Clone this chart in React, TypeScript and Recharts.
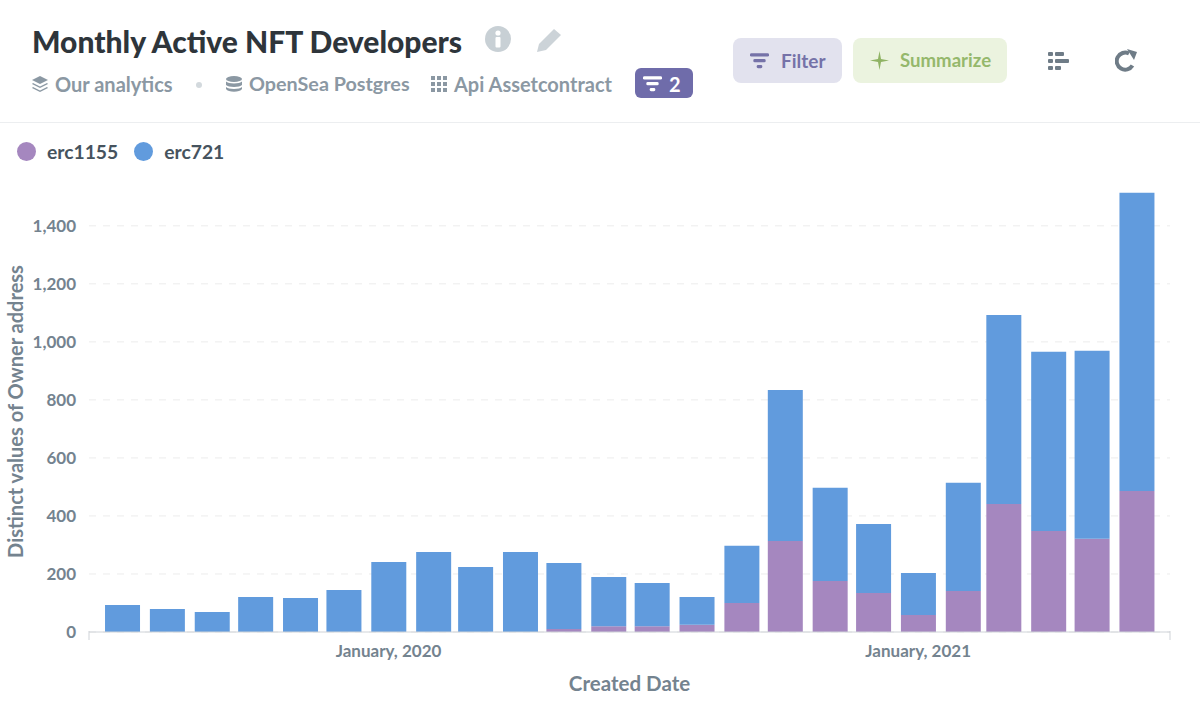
import React from 'react';
import { BarChart, Bar, XAxis, YAxis, CartesianGrid, Legend, Label } from 'recharts';

const months = [
  '2019-07-01', '2019-08-01', '2019-09-01', '2019-10-01', '2019-11-01', '2019-12-01',
  '2020-01-01', '2020-02-01', '2020-03-01', '2020-04-01', '2020-05-01', '2020-06-01',
  '2020-07-01', '2020-08-01', '2020-09-01', '2020-10-01', '2020-11-01', '2020-12-01',
  '2021-01-01', '2021-02-01', '2021-03-01', '2021-04-01', '2021-05-01', '2021-06-01',
];
const erc1155 = [0, 0, 0, 0, 0, 0, 0, 0, 0, 0, 10, 20, 20, 25, 100, 314, 176, 134, 59, 141, 441, 348, 321, 486];
const erc721 = [93, 79, 69, 121, 117, 145, 241, 276, 224, 276, 228, 170, 149, 96, 197, 520, 321, 238, 144, 373, 652, 618, 648, 1028];

const yTicks = [0, 200, 400, 600, 800, 1000, 1200, 1400];
const xLabels: Record<string, string> = {
  '2020-01-01': 'January, 2020',
  '2021-01-01': 'January, 2021',
};
const domainStart = '2019-06-08';
const domainEnd = '2021-06-24';

const toTime = (d: string) => Date.parse(d + 'T00:00:00Z');
const data = months.map((m, i) => ({ date: toTime(m), erc1155: erc1155[i], erc721: erc721[i] }));
const xTicks = [domainStart, ...Object.keys(xLabels), domainEnd].map(toTime);

const FONT = 'Lato, sans-serif';
const AXIS_TEXT = '#74838f';
const AXIS_LINE = '#cfd3d8';

function XTick({ x, y, payload }: any) {
  const key = new Date(payload.value).toISOString().slice(0, 10);
  const label = xLabels[key];
  if (!label) {
    return <line x1={x} x2={x} y1={y - 9} y2={y} stroke={AXIS_LINE} strokeWidth={1} />;
  }
  return (
    <text x={x} y={y + 17} textAnchor="middle" fontFamily={FONT} fontWeight={700} fontSize={17} fill={AXIS_TEXT}>
      {label}
    </text>
  );
}

function LegendRow({ payload }: any) {
  return (
    <div style={{ display: 'flex', alignItems: 'center', fontFamily: FONT, fontWeight: 700, fontSize: 19.3, color: '#46535e' }}>
      {(payload || []).map((p: any) => (
        <div key={p.value} style={{ display: 'flex', alignItems: 'center', marginRight: 16 }}>
          <span style={{ width: 19, height: 19, borderRadius: '50%', background: p.color, marginRight: 11 }} />
          {p.value}
        </div>
      ))}
    </div>
  );
}

const textAt = (left: number, top: number, size: number, color: string, weight = 700): React.CSSProperties => ({
  position: 'absolute',
  left,
  top,
  fontSize: size,
  color,
  fontWeight: weight,
  lineHeight: 1,
  whiteSpace: 'nowrap',
});

const boxAt = (left: number, top: number, width: number, height: number, background: string, radius: number): React.CSSProperties => ({
  position: 'absolute',
  left,
  top,
  width,
  height,
  background,
  borderRadius: radius,
});

function FilterIcon({ left, top, color, w = 19 }: { left: number; top: number; color: string; w?: number }) {
  return (
    <svg style={{ position: 'absolute', left, top }} width={w} height={w * 0.82} viewBox="0 0 20 16">
      <rect x="0" y="0" width="20" height="3.6" rx="1.5" fill={color} />
      <rect x="3.5" y="6.2" width="13" height="3.4" rx="1.5" fill={color} />
      <rect x="7" y="12.4" width="6" height="3.4" rx="1.5" fill={color} />
    </svg>
  );
}

function Header() {
  const sub = '#8b98a3';
  return (
    <div style={{ fontFamily: FONT }}>
      <div style={textAt(32, 26, 30, '#2e353b', 900)}>Monthly Active NFT Developers</div>
      <svg style={{ position: 'absolute', left: 485, top: 26 }} width="26" height="26" viewBox="0 0 26 26">
        <circle cx="13" cy="13" r="13" fill="#c8d0d5" />
        <circle cx="13" cy="7" r="2.6" fill="#fff" />
        <rect x="10.5" y="11" width="5" height="10.5" rx="1" fill="#fff" />
      </svg>
      <svg style={{ position: 'absolute', left: 536, top: 27 }} width="27" height="26" viewBox="0 0 27 26">
        <path d="M1 25 L3 17 L18 2 L25 8 L10 23 Z" fill="#ccd3d8" />
      </svg>

      <svg style={{ position: 'absolute', left: 32, top: 76 }} width="16" height="16" viewBox="0 0 16 16">
        <path d="M8 0 L16 4 L8 8 L0 4 Z" fill={sub} />
        <path d="M1 7 L8 10.5 L15 7 L16 8 L8 12 L0 8 Z" fill={sub} />
        <path d="M1 11 L8 14.5 L15 11 L16 12 L8 16 L0 12 Z" fill={sub} />
      </svg>
      <div style={textAt(55, 74, 20, sub)}>Our analytics</div>
      <div style={boxAt(196, 82, 6, 6, '#d3d9dd', 3)} />
      <svg style={{ position: 'absolute', left: 226, top: 76 }} width="16" height="16" viewBox="0 0 16 16">
        <ellipse cx="8" cy="3" rx="8" ry="3" fill={sub} />
        <path d="M0 5.5 C2 8 14 8 16 5.5 V9 C14 11.5 2 11.5 0 9 Z" fill={sub} />
        <path d="M0 11 C2 13.5 14 13.5 16 11 V13 C14 16.5 2 16.5 0 13 Z" fill={sub} />
      </svg>
      <div style={textAt(249, 74, 19.75, sub)}>OpenSea Postgres</div>
      <svg style={{ position: 'absolute', left: 431, top: 76 }} width="16" height="16" viewBox="0 0 16 16">
        {[0, 6, 12].map(gx =>
          [0, 6, 12].map(gy => <rect key={`${gx}-${gy}`} x={gx} y={gy} width="4" height="4" fill={sub} />)
        )}
      </svg>
      <div style={textAt(454, 74, 20, sub)}>Api Assetcontract</div>

      <div style={boxAt(635, 68, 58, 30, '#6f6caa', 6)} />
      <FilterIcon left={643} top={76} color="#ffffff" />
      <div style={textAt(669, 74, 20, '#ffffff')}>2</div>

      <div style={boxAt(733, 38, 109, 45, '#e2e2ee', 8)} />
      <FilterIcon left={750} top={53} color="#7572a8" />
      <div style={textAt(781, 51, 19, '#7572a8')}>Filter</div>

      <div style={boxAt(853, 38, 154, 45, '#ebf3df', 8)} />
      <svg style={{ position: 'absolute', left: 870, top: 51 }} width="19" height="19" viewBox="0 0 19 19">
        <path d="M9.5 0 L11 8 L19 9.5 L11 11 L9.5 19 L8 11 L0 9.5 L8 8 Z" fill="#8fb364" />
      </svg>
      <div style={textAt(900, 51, 18.6, '#95b86c')}>Summarize</div>

      <svg style={{ position: 'absolute', left: 1048, top: 52 }} width="21" height="18" viewBox="0 0 21 18">
        {[0, 7, 14].map(ry => <rect key={ry} x="0" y={ry} width="5" height="4" rx="1" fill="#6f7c87" />)}
        <rect x="7" y="0" width="9" height="4" rx="1" fill="#6f7c87" />
        <rect x="7" y="7" width="14" height="4" rx="1" fill="#6f7c87" />
        <rect x="7" y="14" width="6" height="4" rx="1" fill="#6f7c87" />
      </svg>
      <svg style={{ position: 'absolute', left: 1115, top: 49 }} width="23" height="23" viewBox="0 0 23 23">
        <path d="M17.5 16.5 A8.5 8.5 0 1 1 14 4.5" fill="none" stroke="#6f7c87" strokeWidth="4" />
        <path d="M12 0 L22 3 L19 11 Z" fill="#6f7c87" />
      </svg>

      <div style={{ position: 'absolute', left: 0, top: 122, width: 1200, height: 1, background: '#eceef0' }} />
    </div>
  );
}

export default function App() {
  return (
    <div style={{ position: 'absolute', left: 0, top: 0, width: 1200, height: 711, background: '#fff', overflow: 'hidden' }}>
      <Header />
      <div style={{ position: 'absolute', left: 0, top: 0 }}>
        <BarChart width={1200} height={711} data={data} margin={{ top: 191, right: 30, bottom: 0, left: 0 }} barSize={35}>
          <CartesianGrid vertical={false} stroke="#ececec" strokeDasharray="7 7" horizontalValues={yTicks} />
          <Legend
            layout="horizontal"
            verticalAlign="middle"
            align="center"
            content={<LegendRow />}
            wrapperStyle={{ left: 17, top: 140, width: 300 }}
          />
          <XAxis
            dataKey="date"
            type="number"
            scale="time"
            domain={[toTime(domainStart), toTime(domainEnd)]}
            ticks={xTicks}
            interval={0}
            tick={<XTick />}
            tickLine={false}
            axisLine={{ stroke: AXIS_LINE }}
            height={79}
          >
            <Label
              value="Created Date"
              position="insideBottom"
              offset={20}
              style={{ fontFamily: FONT, fontWeight: 700, fontSize: 20.5, fill: AXIS_TEXT }}
            />
          </XAxis>
          <YAxis
            width={89}
            domain={[0, 1520]}
            ticks={yTicks}
            tickFormatter={(v: number) => v.toLocaleString('en-US')}
            tick={{ fontFamily: FONT, fontWeight: 700, fontSize: 17, fill: AXIS_TEXT }}
            tickLine={false}
            axisLine={false}
            tickMargin={7}
          >
            <Label
              value="Distinct values of Owner address"
              angle={-90}
              position="insideLeft"
              offset={16}
              style={{ fontFamily: FONT, fontWeight: 700, fontSize: 20, fill: AXIS_TEXT, textAnchor: 'middle' }}
            />
          </YAxis>
          <Bar dataKey="erc1155" stackId="a" fill="#a587bf" isAnimationActive={false} />
          <Bar dataKey="erc721" stackId="a" fill="#619bdd" isAnimationActive={false} />
        </BarChart>
      </div>
    </div>
  );
}
